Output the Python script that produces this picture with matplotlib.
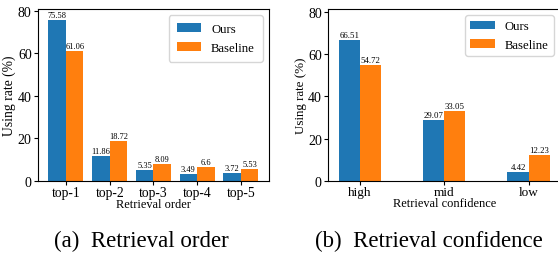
import numpy as np
import matplotlib
matplotlib.use('Agg')
import matplotlib.pyplot as plt

plt.rcParams['font.family'] = ['Liberation Serif', 'DejaVu Serif']

# data
order_labels = ['top-1', 'top-2', 'top-3', 'top-4', 'top-5']
order_ours = [75.58, 11.86, 5.35, 3.49, 3.72]
order_base = [61.06, 18.72, 8.09, 6.6, 5.53]

conf_labels = ['high', 'mid', 'low']
conf_ours = [66.51, 29.07, 4.42]
conf_base = [54.72, 33.05, 12.23]

blue = '#1f77b4'
orange = '#ff7f0e'

fig = plt.figure(figsize=(5.58, 2.55), dpi=100)

# (a) retrieval order
ax1 = fig.add_axes([0.068, 0.286, 0.414, 0.675])
x1 = np.arange(len(order_labels))
w1 = 0.4
b1 = ax1.bar(x1 - w1 / 2, order_ours, w1, color=blue, label='Ours')
b2 = ax1.bar(x1 + w1 / 2, order_base, w1, color=orange, label='Baseline')
for bars, vals in [(b1, order_ours), (b2, order_base)]:
    for r, v in zip(bars, vals):
        ax1.text(r.get_x() + r.get_width() / 2, r.get_height() + 0.4, str(v),
                 ha='center', va='bottom', fontsize=6)
ax1.set_xticks(x1)
ax1.set_xticklabels(order_labels, fontsize=9.8)
ax1.set_yticks([0, 20, 40, 60, 80])
ax1.tick_params(axis='y', labelsize=10, pad=1.5, length=3)
ax1.tick_params(axis='x', pad=0.5, length=3)
ax1.set_ylim(0, 80.8)
ax1.set_ylabel('Using rate (%)', fontsize=9.8, labelpad=1)
ax1.set_xlabel('Retrieval order', fontsize=8.9, labelpad=-1)
ax1.legend(loc='upper right', fontsize=9.2, handlelength=1.9,
           labelspacing=0.55, borderpad=0.6)

# (b) retrieval confidence
ax2 = fig.add_axes([0.588, 0.286, 0.416, 0.675])
x2 = np.arange(len(conf_labels))
w2 = 0.25
c1 = ax2.bar(x2 - w2 / 2, conf_ours, w2, color=blue, label='Ours')
c2 = ax2.bar(x2 + w2 / 2, conf_base, w2, color=orange, label='Baseline')
for bars, vals in [(c1, conf_ours), (c2, conf_base)]:
    for r, v in zip(bars, vals):
        ax2.text(r.get_x() + r.get_width() / 2, r.get_height() + 0.4, str(v),
                 ha='center', va='bottom', fontsize=6.3)
ax2.set_xticks(x2)
ax2.set_xticklabels(conf_labels, fontsize=9.5)
ax2.set_yticks([0, 20, 40, 60, 80])
ax2.tick_params(axis='y', labelsize=10, pad=1.5, length=3)
ax2.tick_params(axis='x', pad=0.5, length=3)
ax2.set_ylim(0, 81.3)
ax2.set_ylabel('Using rate (%)', fontsize=9.4, labelpad=1)
ax2.set_xlabel('Retrieval confidence', fontsize=8.9, labelpad=-1)
ax2.legend(loc='upper right', fontsize=9.2, handlelength=1.9)

# captions
fig.text(0.253, 0.055, '(a)  Retrieval order', ha='center', va='center', fontsize=16.5)
fig.text(0.769, 0.055, '(b)  Retrieval confidence', ha='center', va='center', fontsize=16.5)

fig.savefig('out.png', dpi=100)
